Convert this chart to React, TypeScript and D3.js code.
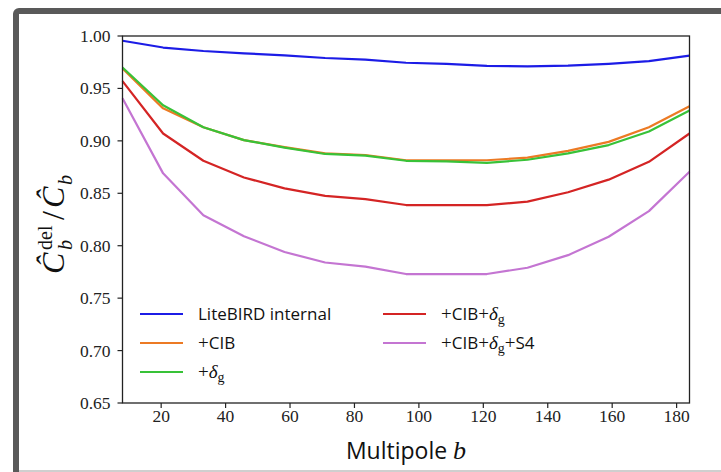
import React from "react";
import * as d3 from "d3";

const multipoles = [8, 20.6, 33.1, 45.7, 58.3, 70.9, 83.4, 96, 108.6, 121.1, 133.7, 146.3, 158.9, 171.4, 184];
const liteBIRD = [0.9955, 0.989, 0.9857, 0.9835, 0.9815, 0.979, 0.9775, 0.9745, 0.9735, 0.9715, 0.971, 0.9718, 0.9735, 0.976, 0.9812];
const plusCIB = [0.969, 0.931, 0.913, 0.9007, 0.894, 0.888, 0.8865, 0.8815, 0.8815, 0.8815, 0.884, 0.8905, 0.899, 0.913, 0.933];
const plusDg = [0.970, 0.934, 0.913, 0.9007, 0.8935, 0.8875, 0.886, 0.881, 0.8805, 0.879, 0.882, 0.888, 0.896, 0.909, 0.929];
const plusCIBDg = [0.957, 0.907, 0.881, 0.865, 0.8547, 0.8476, 0.8445, 0.8388, 0.8388, 0.8388, 0.842, 0.851, 0.863, 0.880, 0.907];
const plusCIBDgS4 = [0.9406, 0.869, 0.829, 0.809, 0.794, 0.784, 0.780, 0.773, 0.773, 0.773, 0.779, 0.791, 0.8085, 0.833, 0.8705];

const xTicks = [20, 40, 60, 80, 100, 120, 140, 160, 180];
const yTicks = [0.65, 0.7, 0.75, 0.8, 0.85, 0.9, 0.95, 1.0];

const seriesList = [
  { key: "lb", values: liteBIRD, color: "#1c1ce6" },
  { key: "cib", values: plusCIB, color: "#ec7a24" },
  { key: "dg", values: plusDg, color: "#38c238" },
  { key: "cibdg", values: plusCIBDg, color: "#d42424" },
  { key: "s4", values: plusCIBDgS4, color: "#c475d2" },
];

const SERIF = "Liberation Serif, DejaVu Serif, serif";
const SANS = "Open Sans, DejaVu Sans, sans-serif";
const serif = (size: number, italic = false): React.CSSProperties => ({ fontFamily: SERIF, fontSize: size, fontStyle: italic ? "italic" : "normal" });
const sans = (size: number): React.CSSProperties => ({ fontFamily: SANS, fontSize: size });

export default function App() {
  const W = 721, H = 472;
  const left = 122.5, right = 689.5, top = 36, bottom = 403;
  const x = d3.scaleLinear().domain([8, 184]).range([left, right]);
  const y = d3.scaleLinear().domain([0.65, 1.0]).range([bottom, top]);
  const line = d3.line<number>().x((_, i) => x(multipoles[i])).y((v) => y(v));

  const legendItem = (lx: number, ly: number, color: string, label: React.ReactNode) => (
    <g>
      <line x1={lx} x2={lx + 43} y1={ly} y2={ly} stroke={color} strokeWidth={2.2} />
      <text x={lx + 58} y={ly + 6} style={sans(17)} fill="#111">{label}</text>
    </g>
  );

  const plus = <tspan style={serif(19)}>+</tspan>;
  const delta = (
    <>
      <tspan style={serif(19, true)}>δ</tspan>
      <tspan style={serif(14)} dy={4}>g</tspan>
    </>
  );

  return (
    <div style={{ position: "absolute", left: 0, top: 0 }}>
      <svg width={W} height={H} style={{ display: "block" }}>
        <rect x={0} y={0} width={W} height={H} fill="#fff" />
        <rect x={16} y={11} width={760} height={520} rx={3} fill="#fff" stroke="#595959" strokeWidth={6} />
        <line x1={19} x2={W} y1={471} y2={471} stroke="#cfcfcf" strokeWidth={2} />

        {seriesList.map((s) => (
          <path key={s.key} d={line(s.values) || ""} fill="none" stroke={s.color} strokeWidth={2.2} strokeLinejoin="round" />
        ))}

        <rect x={left} y={top} width={right - left} height={bottom - top} fill="none" stroke="#222" strokeWidth={1.3} />

        {xTicks.map((t) => (
          <g key={"x" + t}>
            <line x1={x(t)} x2={x(t)} y1={bottom} y2={bottom + 5} stroke="#222" strokeWidth={1.2} />
            <text x={x(t)} y={bottom + 19} textAnchor="middle" style={serif(17.5)} fill="#222">{t}</text>
          </g>
        ))}
        {yTicks.map((t) => (
          <g key={"y" + t}>
            <line x1={left - 5} x2={left} y1={y(t)} y2={y(t)} stroke="#222" strokeWidth={1.2} />
            <text x={left - 12} y={y(t) + 6} textAnchor="end" style={serif(17.5)} fill="#222">{t.toFixed(2)}</text>
          </g>
        ))}

        <text x={(left + right) / 2} y={459} textAnchor="middle" style={sans(23)} fill="#111">
          Multipole <tspan style={serif(26, true)}>b</tspan>
        </text>

        <g transform="translate(64,214) rotate(-90)" fill="#111">
          <text x={-60} y={0} style={serif(32, true)}>Ĉ</text>
          <text x={-36} y={-12} style={serif(20)}>del</text>
          <text x={-36} y={8} style={serif(20, true)}>b</text>
          <text x={-6} y={0} style={serif(32)}>/</text>
          <text x={6} y={0} style={serif(32, true)}>Ĉ</text>
          <text x={29} y={8} style={serif(20, true)}>b</text>
        </g>

        {legendItem(140, 314, seriesList[0].color, "LiteBIRD internal")}
        {legendItem(140, 343, seriesList[1].color, <>{plus}CIB</>)}
        {legendItem(140, 372, seriesList[2].color, <>{plus}{delta}</>)}
        {legendItem(383, 314, seriesList[3].color, <>{plus}CIB{plus}{delta}</>)}
        {legendItem(383, 343, seriesList[4].color, <>{plus}CIB{plus}{delta}<tspan dy={-4}>{plus}S4</tspan></>)}
      </svg>
    </div>
  );
}
